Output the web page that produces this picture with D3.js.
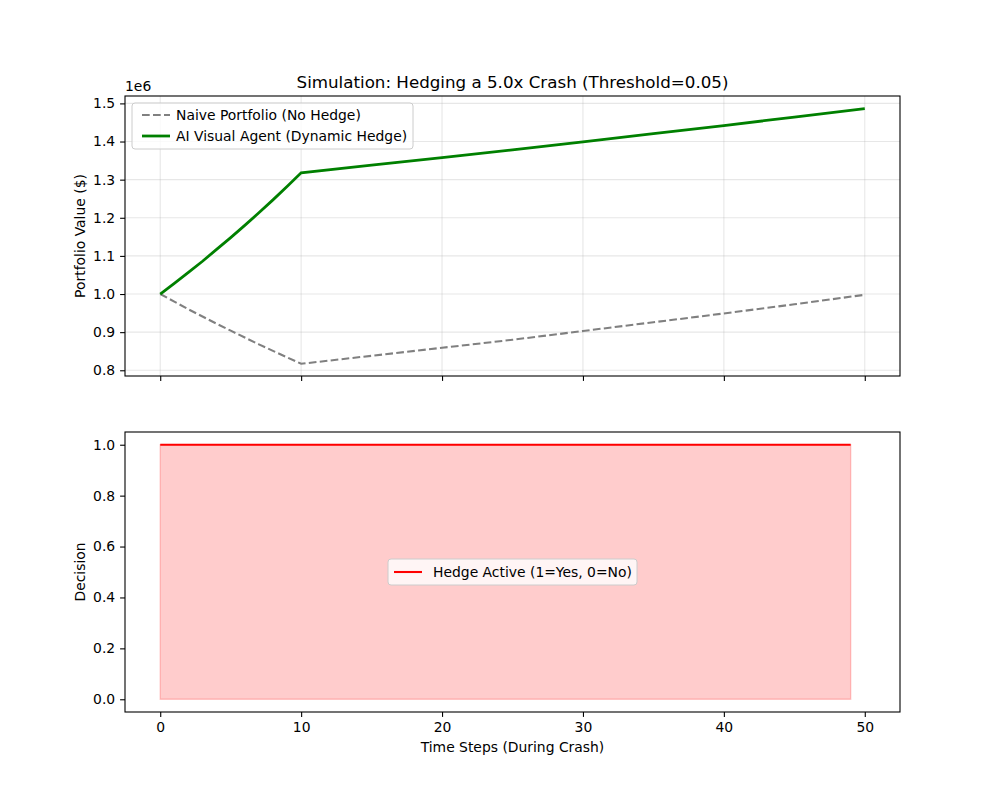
<!DOCTYPE html>
<html>
<head>
<meta charset="utf-8">
<script src="https://cdn.jsdelivr.net/npm/d3@7"></script>
<style>
body { margin: 0; background: #fff; }
text { font-family: "DejaVu Sans", sans-serif; fill: #000; }
.axis path, .axis line { stroke: #000; stroke-width: 1.1; }
</style>
</head>
<body>
<script>
// portfolio values (dollars)
var naiveSteps = [0,1,2,3,4,5,6,7,8,9,10,15,20,25,30,35,40,45,50];
var naiveValues = [1000000,980000,960000,941000,922000,904000,886000,868000,851000,834000,817000,838000,859000,880000,903000,926000,949000,973000,998000];
var agentSteps = [0,1,2,3,4,5,6,7,8,9,10,15,20,25,30,35,40,45,50];
var agentValues = [1000000,1028000,1057000,1086000,1117000,1148000,1180000,1213000,1247000,1282000,1318000,1338000,1358000,1378000,1399000,1421000,1442000,1464000,1486000];
// hedge decision for steps 0..49
var hedgeSteps = d3.range(0, 50);
var hedgeValues = [1,1,1,1,1,1,1,1,1,1,1,1,1,1,1,1,1,1,1,1,1,1,1,1,1,1,1,1,1,1,1,1,1,1,1,1,1,1,1,1,1,1,1,1,1,1,1,1,1,1];
var xTicks = [0,10,20,30,40,50];
var topTicks = [800000,900000,1000000,1100000,1200000,1300000,1400000,1500000];
var bottomTicks = [0,0.2,0.4,0.6,0.8,1.0];

var width = 1000, height = 800;
var left = 125, right = 900;
var top1 = 96, bot1 = 376;
var top2 = 432, bot2 = 712;

var svg = d3.select('body').append('svg')
            .attr('width', width)
            .attr('height', height);

var x = d3.scaleLinear().domain([-2.5, 52.5]).range([left, right]);
var y1 = d3.scaleLinear().domain([785000, 1519400]).range([bot1, top1]);
var y2 = d3.scaleLinear().domain([-0.05, 1.05]).range([bot2, top2]);

var naive = naiveSteps.map(function(t, i){ return {t: t, v: naiveValues[i]}; });
var agent = agentSteps.map(function(t, i){ return {t: t, v: agentValues[i]}; });
var hedge = hedgeSteps.map(function(t, i){ return {t: t, v: hedgeValues[i]}; });

// ---- top panel ----
var g1 = svg.append('g');
// grid
g1.selectAll('.gx').data(xTicks).enter().append('line')
  .attr('x1', function(d){ return x(d); }).attr('x2', function(d){ return x(d); })
  .attr('y1', top1).attr('y2', bot1)
  .style('stroke', '#b0b0b0').style('stroke-opacity', 0.3).style('stroke-width', 1.1);
g1.selectAll('.gy').data(topTicks).enter().append('line')
  .attr('x1', left).attr('x2', right)
  .attr('y1', function(d){ return y1(d); }).attr('y2', function(d){ return y1(d); })
  .style('stroke', '#b0b0b0').style('stroke-opacity', 0.3).style('stroke-width', 1.1);

var line1 = d3.line().x(function(d){ return x(d.t); }).y(function(d){ return y1(d.v); });
g1.append('path').attr('d', line1(naive))
  .style('fill', 'none').style('stroke', '#808080').style('stroke-width', 2.08)
  .style('stroke-dasharray', '7.7,3.3');
g1.append('path').attr('d', line1(agent))
  .style('fill', 'none').style('stroke', '#008000').style('stroke-width', 2.78);

g1.append('g').attr('class', 'axis').attr('transform', 'translate(0,' + bot1 + ')')
  .call(d3.axisBottom(x).tickValues(xTicks).tickSize(4.9).tickFormat(''));
g1.append('g').attr('class', 'axis').attr('transform', 'translate(' + left + ',0)')
  .call(d3.axisLeft(y1).tickValues(topTicks).tickSize(4.9).tickPadding(4.9)
    .tickFormat(function(d){ return (d / 1e6).toFixed(1); }));
g1.append('rect').attr('x', left).attr('y', top1).attr('width', right - left).attr('height', bot1 - top1)
  .style('fill', 'none').style('stroke', '#000').style('stroke-width', 1.1);
svg.selectAll('.axis text').style('font-size', '13.9px');
svg.selectAll('.axis .domain').remove();

g1.append('text').attr('x', left).attr('y', top1 - 5).style('font-size', '13.9px').text('1e6');
svg.append('text').attr('x', (left + right) / 2).attr('y', top1 - 8).attr('text-anchor', 'middle')
  .style('font-size', '16.7px').text('Simulation: Hedging a 5.0x Crash (Threshold=0.05)');
svg.append('text').attr('transform', 'translate(85,' + ((top1 + bot1) / 2) + ') rotate(-90)')
  .attr('text-anchor', 'middle').style('font-size', '13.9px').text('Portfolio Value ($)');

// legend top
var lg1 = svg.append('g').attr('transform', 'translate(132,103)');
lg1.append('rect').attr('width', 281).attr('height', 46).attr('rx', 3)
  .style('fill', '#fff').style('fill-opacity', 0.8).style('stroke', '#cccccc');
lg1.append('line').attr('x1', 10).attr('x2', 38).attr('y1', 12).attr('y2', 12)
  .style('stroke', '#808080').style('stroke-width', 2.08).style('stroke-dasharray', '7.7,3.3');
lg1.append('text').attr('x', 44).attr('y', 17).style('font-size', '13.9px').text('Naive Portfolio (No Hedge)');
lg1.append('line').attr('x1', 10).attr('x2', 38).attr('y1', 33).attr('y2', 33)
  .style('stroke', '#008000').style('stroke-width', 2.78);
lg1.append('text').attr('x', 44).attr('y', 38).style('font-size', '13.9px').text('AI Visual Agent (Dynamic Hedge)');

// ---- bottom panel ----
var g2 = svg.append('g');
var area = d3.area().x(function(d){ return x(d.t); }).y0(y2(0)).y1(function(d){ return y2(d.v); });
g2.append('path').attr('d', area(hedge))
  .style('fill', 'red').style('fill-opacity', 0.2)
  .style('stroke', 'red').style('stroke-opacity', 0.2).style('stroke-width', 1.4);
var line2 = d3.line().x(function(d){ return x(d.t); }).y(function(d){ return y2(d.v); });
g2.append('path').attr('d', line2(hedge))
  .style('fill', 'none').style('stroke', 'red').style('stroke-width', 2.08);

g2.append('g').attr('class', 'axis').attr('transform', 'translate(0,' + bot2 + ')')
  .call(d3.axisBottom(x).tickValues(xTicks).tickSize(4.9).tickPadding(4.9).tickFormat(d3.format('d')));
g2.append('g').attr('class', 'axis').attr('transform', 'translate(' + left + ',0)')
  .call(d3.axisLeft(y2).tickValues(bottomTicks).tickSize(4.9).tickPadding(4.9).tickFormat(d3.format('.1f')));
g2.append('rect').attr('x', left).attr('y', top2).attr('width', right - left).attr('height', bot2 - top2)
  .style('fill', 'none').style('stroke', '#000').style('stroke-width', 1.1);
svg.selectAll('.axis text').style('font-size', '13.9px');
svg.selectAll('.axis .domain').remove();

svg.append('text').attr('transform', 'translate(85,' + ((top2 + bot2) / 2) + ') rotate(-90)')
  .attr('text-anchor', 'middle').style('font-size', '13.9px').text('Decision');
svg.append('text').attr('x', (left + right) / 2).attr('y', 752).attr('text-anchor', 'middle')
  .style('font-size', '13.9px').text('Time Steps (During Crash)');

// legend bottom
var lg2 = svg.append('g').attr('transform', 'translate(388,559)');
lg2.append('rect').attr('width', 249).attr('height', 26).attr('rx', 3)
  .style('fill', '#fff').style('fill-opacity', 0.8).style('stroke', '#cccccc');
lg2.append('line').attr('x1', 6).attr('x2', 34).attr('y1', 13).attr('y2', 13)
  .style('stroke', 'red').style('stroke-width', 2.08);
lg2.append('text').attr('x', 45).attr('y', 18).style('font-size', '13.9px').text('Hedge Active (1=Yes, 0=No)');
</script>
</body>
</html>
